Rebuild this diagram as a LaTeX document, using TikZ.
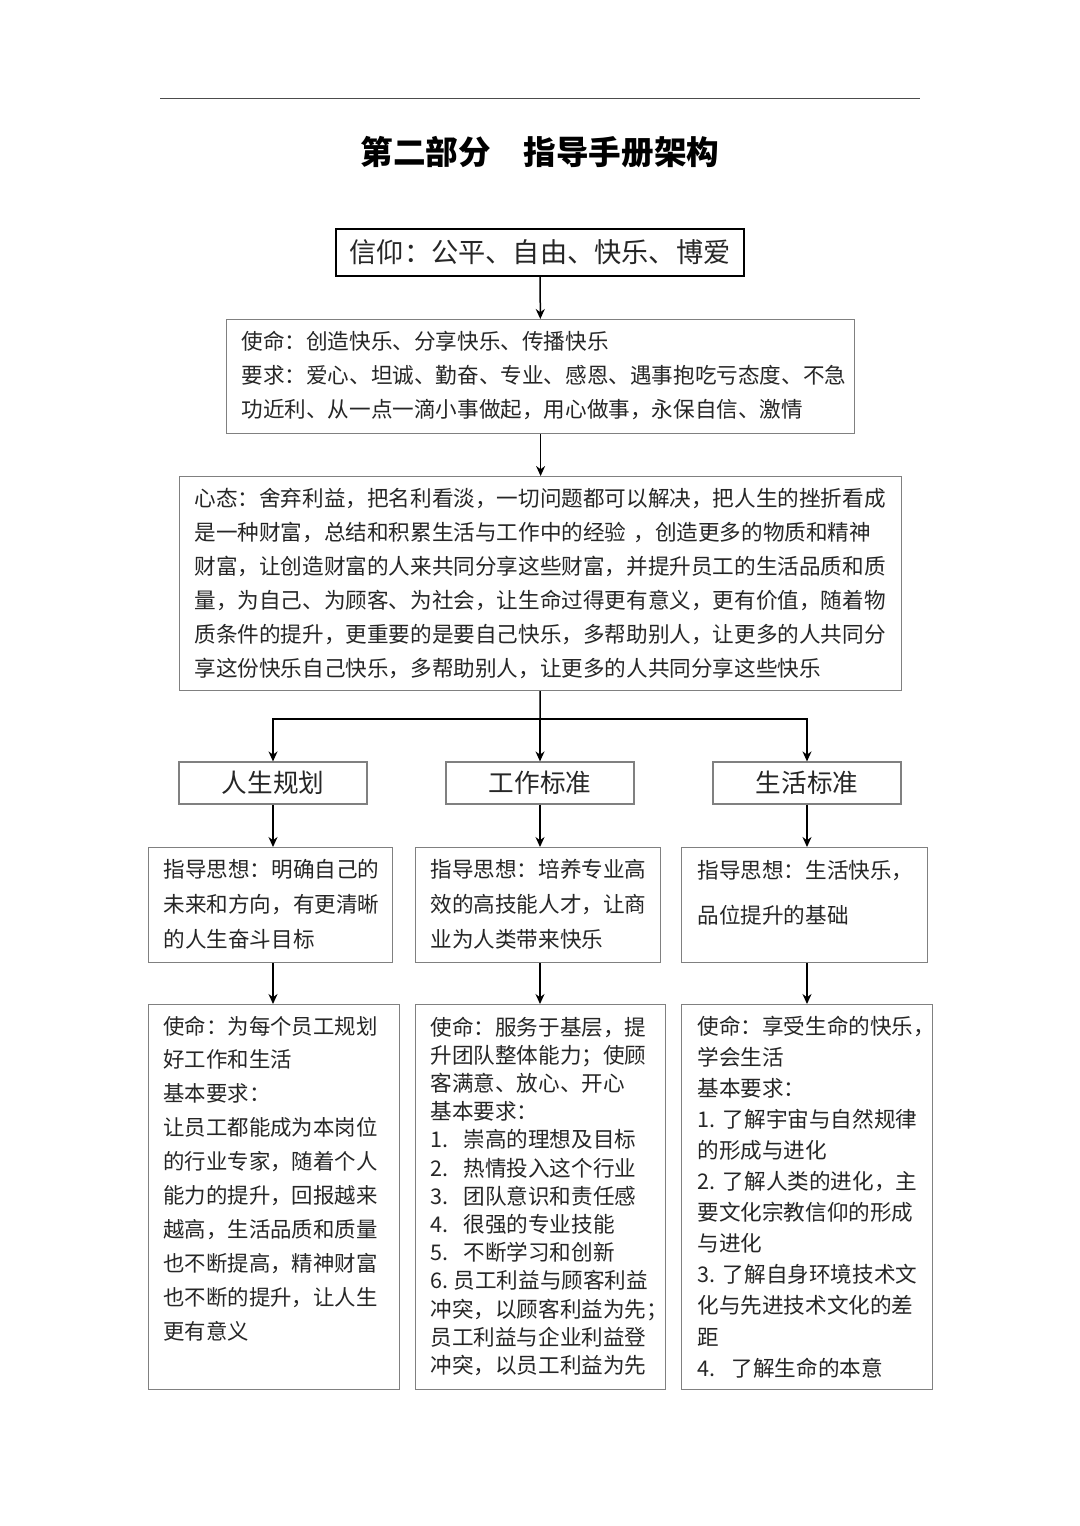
\documentclass[tikz,border=0pt]{standalone}
\usepackage{fontspec}
\setmainfont{Noto Sans CJK SC}
\usepackage{tikz}
\usetikzlibrary{arrows.meta,calc}

\begin{document}
\begin{tikzpicture}[x=0.5pt,y=-0.5pt,
		frame/.style={draw=black!50, line width=0.6pt, anchor=north west, inner sep=0pt},
		head/.style={draw=black!50, line width=0.6pt, inner sep=0pt, minimum width=94pt, minimum height=21pt,
			font=\fontsize{12.8}{15}\selectfont, text=black!85},
		txt/.style={anchor=base west, inner sep=0pt, align=left, text width=200pt, text=black!85},
		arr/.style={-{Stealth[length=5pt,width=4.5pt]}, line width=0.75pt},
		link/.style={line width=0.75pt}]
			\useasboundingbox (0,0) rectangle (1080,1526);

			% Title
			\draw[black!70, line width=0.5pt] (160,98) -- (920,98);
			\node[font=\bfseries\fontsize{16.3}{20}\selectfont] (title) at (540,152) {第二部分　指导手册架构};

			% Top column
			\node[draw, line width=0.8pt, inner sep=0pt, minimum width=204pt, minimum height=23.5pt,
				font=\fontsize{13.6}{16}\selectfont, text=black!85] (xinyang) at (540,252.5) {信仰：公平、自由、快乐、博爱};

			\node[frame, minimum width=314pt, minimum height=57pt] (shiming) at (226,319) {};
			\node[txt, text width=310pt, font=\fontsize{10.8}{17}\selectfont] (shiming-t) at (241,349) {
				使命：创造快乐、分享快乐、传播快乐\\
				要求：爱心、坦诚、勤奋、专业、感恩、遇事抱吃亏态度、不急\\
				功近利、从一点一滴小事做起，用心做事，永保自信、激情};

			\node[frame, minimum width=361pt, minimum height=107pt] (xintai) at (179,476) {};
			\node[txt, text width=356pt, font=\fontsize{10.8}{17}\selectfont] (xintai-t) at (194,506) {
				心态：舍弃利益，把名利看淡，一切问题都可以解决，把人生的挫折看成\\
				是一种财富，总结和积累生活与工作中的经验 ，创造更多的物质和精神\\
				财富，让创造财富的人来共同分享这些财富，并提升员工的生活品质和质\\
				量，为自己、为顾客、为社会，让生命过得更有意义，更有价值，随着物\\
				质条件的提升，更重要的是要自己快乐，多帮助别人，让更多的人共同分\\
				享这份快乐自己快乐，多帮助别人，让更多的人共同分享这些快乐};

			\coordinate (fork) at (540,719);

			% Three branches
			\node[head] (renshen) at (273,783) {人生规划};
			\node[head] (gongzuo) at (540,783) {工作标准};
			\node[head] (shenghuo) at (807,783) {生活标准};

			\node[frame, minimum width=122pt, minimum height=57.5pt] (zhidao1) at (148,847) {};
			\node[frame, minimum width=122.5pt, minimum height=57.5pt] (zhidao2) at (415,847) {};
			\node[frame, minimum width=123pt, minimum height=57.5pt] (zhidao3) at (681,847) {};
			\node[txt, font=\fontsize{10.8}{17.5}\selectfont] (zhidao1-t) at (163,877) {
				指导思想：明确自己的\\
				未来和方向，有更清晰\\
				的人生奋斗目标};
			\node[txt, font=\fontsize{10.8}{17.5}\selectfont] (zhidao2-t) at (430,877) {
				指导思想：培养专业高\\
				效的高技能人才，让商\\
				业为人类带来快乐};
			\node[txt, font=\fontsize{10.8}{22.5}\selectfont] (zhidao3-t) at (697,878) {
				指导思想：生活快乐，\\
				品位提升的基础};

			\node[frame, minimum width=125.5pt, minimum height=192.5pt] (yaoqiu1) at (148,1004) {};
			\node[frame, minimum width=125pt, minimum height=192.5pt] (yaoqiu2) at (415,1004) {};
			\node[frame, minimum width=125.5pt, minimum height=192.5pt] (yaoqiu3) at (681,1004) {};
			\node[txt, font=\fontsize{10.7}{16.95}\selectfont] (yaoqiu1-t) at (163,1034) {
				使命：为每个员工规划\\
				好工作和生活\\
				基本要求：\\
				让员工都能成为本岗位\\
				的行业专家，随着个人\\
				能力的提升，回报越来\\
				越高，生活品质和质量\\
				也不断提高，精神财富\\
				也不断的提升，让人生\\
				更有意义};
			\node[txt, font=\fontsize{10.8}{14.1}\selectfont] (yaoqiu2-t) at (430,1035) {
				使命：服务于基层，提\\
				升团队整体能力；使顾\\
				客满意、放心、开心\\
				基本要求：\\
				1.\hspace{0.7em}崇高的理想及目标\\
				2.\hspace{0.7em}热情投入这个行业\\
				3.\hspace{0.7em}团队意识和责任感\\
				4.\hspace{0.7em}很强的专业技能\\
				5.\hspace{0.7em}不断学习和创新\\
				6.\hspace{0.25em}员工利益与顾客利益\\
				冲突，以顾客利益为先；\\
				员工利益与企业利益登\\
				冲突，以员工利益为先};
			\node[txt, font=\fontsize{10.8}{15.55}\selectfont] (yaoqiu3-t) at (697,1034) {
				使命：享受生命的快乐，\\
				学会生活\\
				基本要求：\\
				1.\hspace{0.35em}了解宇宙与自然规律\\
				的形成与进化\\
				2.\hspace{0.35em}了解人类的进化，主\\
				要文化宗教信仰的形成\\
				与进化\\
				3.\hspace{0.35em}了解自身环境技术文\\
				化与先进技术文化的差\\
				距\\
				4.\hspace{0.75em}了解生命的本意};

			% Connectors
			\draw[arr] (xinyang) -- (shiming);
			\draw[arr] (shiming) -- (xintai);
			\draw[link] (xintai) -- (fork);
			\draw[arr] (fork) -| (renshen);
			\draw[arr] (fork) -- (gongzuo);
			\draw[arr] (fork) -| (shenghuo);
			\draw[arr] (renshen) -- (renshen |- zhidao1.north);
			\draw[arr] (gongzuo) -- (gongzuo |- zhidao2.north);
			\draw[arr] (shenghuo) -- (shenghuo |- zhidao3.north);
			\draw[arr] (renshen |- zhidao1.south) -- (renshen |- yaoqiu1.north);
			\draw[arr] (gongzuo |- zhidao2.south) -- (gongzuo |- yaoqiu2.north);
			\draw[arr] (shenghuo |- zhidao3.south) -- (shenghuo |- yaoqiu3.north);
		\end{tikzpicture}
\end{document}
